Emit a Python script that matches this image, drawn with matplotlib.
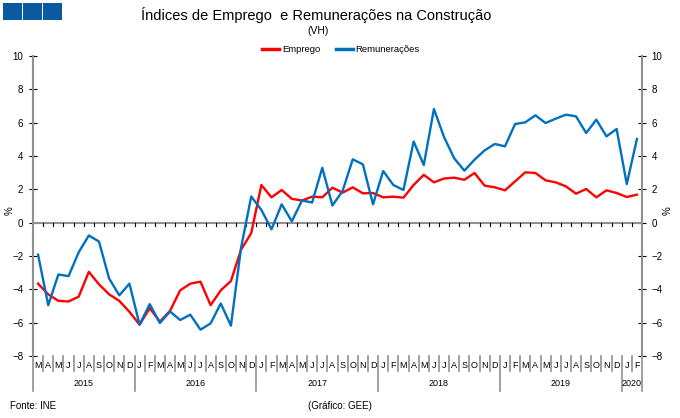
import matplotlib
matplotlib.use('Agg')
import matplotlib.pyplot as plt
from matplotlib.patches import Rectangle
from matplotlib.transforms import blended_transform_factory

plt.rcParams['font.family'] = ['Liberation Sans', 'DejaVu Sans']

# Months from March 2015 to February 2020
months = (['M', 'A', 'M', 'J', 'J', 'A', 'S', 'O', 'N', 'D']
          + ['J', 'F', 'M', 'A', 'M', 'J', 'J', 'A', 'S', 'O', 'N', 'D'] * 4
          + ['J', 'F'])
years = ['2015', '2016', '2017', '2018', '2019', '2020']
year_lengths = [10, 12, 12, 12, 12, 2]

emprego = [-3.66, -4.3, -4.69, -4.73, -4.44, -2.95, -3.7, -4.3, -4.69, -5.35,
           -6.12, -5.13, -5.94, -5.29, -4.06, -3.66, -3.54, -4.95, -4.06, -3.5,
           -1.62, -0.63, 2.26, 1.52, 1.96, 1.43, 1.33, 1.56, 1.52, 2.1,
           1.8, 2.12, 1.76, 1.78, 1.52, 1.56, 1.5, 2.26, 2.87, 2.42,
           2.65, 2.7, 2.57, 2.98, 2.22, 2.12, 1.94, 2.48, 3.02, 2.98,
           2.54, 2.42, 2.18, 1.74, 2.02, 1.52, 1.94, 1.78, 1.54, 1.68]

remuneracoes = [-1.92, -4.95, -3.11, -3.21, -1.78, -0.77, -1.13, -3.35, -4.36, -3.66,
                -6.12, -4.89, -6.02, -5.33, -5.84, -5.52, -6.42, -6.04, -4.85, -6.18,
                -1.5, 1.57, 0.76, -0.4, 1.1, 0.08, 1.33, 1.21, 3.29, 1.03,
                1.9, 3.8, 3.5, 1.1, 3.1, 2.26, 1.96, 4.87, 3.46, 6.82,
                5.13, 3.86, 3.12, 3.78, 4.34, 4.72, 4.58, 5.92, 6.02, 6.44,
                5.98, 6.24, 6.48, 6.38, 5.38, 6.18, 5.18, 5.62, 2.32, 5.02]

RED = '#FF0000'
BLUE = '#0070C0'
GREY = '#909090'

fig = plt.figure(figsize=(6.8, 4.18), dpi=100)
ax = fig.add_axes([33 / 680, 1 - 356 / 418, 609 / 680, 300 / 418])

x = list(range(len(months)))
ax.plot(x, emprego, color=RED, lw=1.7, label='Emprego', zorder=3)
ax.plot(x, remuneracoes, color=BLUE, lw=1.7, label='Remunerações', zorder=3)

ax.set_xlim(-0.5, len(months) - 0.5)
ax.set_ylim(-8, 10)
ax.set_yticks(range(-8, 11, 2))
ax.tick_params(axis='y', which='both', direction='inout', length=6, width=0.8,
               color='black', labelsize=7, left=True, right=True,
               labelleft=True, labelright=True, pad=4)

for side in ['top', 'bottom']:
    ax.spines[side].set_visible(False)
for side in ['left', 'right']:
    ax.spines[side].set_color(GREY)
    ax.spines[side].set_linewidth(1.5)

# zero line with month ticks
ax.axhline(0, color=GREY, lw=1.5, zorder=2)
ax.set_xticks([])
trans = blended_transform_factory(ax.transData, ax.transAxes)
for b in range(1, len(months)):
    ax.plot([b - 0.5, b - 0.5], [0, -0.22], color='black', lw=0.8, zorder=2)

# month labels and separators
year_bounds = [-0.5]
for n in year_lengths:
    year_bounds.append(year_bounds[-1] + n)
for i, m in enumerate(months):
    ax.text(i, -0.03, m, transform=trans, ha='center', va='center', fontsize=6.5)
for b in range(0, len(months) + 1):
    pos = b - 0.5
    if pos in year_bounds:
        y1 = -0.115
    else:
        y1 = -0.05
    ax.plot([pos, pos], [0, y1], transform=trans, color=GREY, lw=1.2,
            clip_on=False)
for k, yr in enumerate(years):
    mid = (year_bounds[k] + year_bounds[k + 1]) / 2
    ax.text(mid, -0.09, yr, transform=trans, ha='center', va='center', fontsize=6.5)

# axis labels
fig.text(10 / 680, 1 - 211 / 418, '%', rotation=90, ha='center', va='center', fontsize=7)
fig.text(668 / 680, 1 - 211 / 418, '%', rotation=90, ha='center', va='center', fontsize=7)

# titles
fig.text(316 / 680, 1 - 15 / 418, 'Índices de Emprego  e Remunerações na Construção',
         ha='center', va='center', fontsize=10.5)
fig.text(318 / 680, 1 - 31 / 418, '(VH)', ha='center', va='center', fontsize=7.5)

leg = fig.legend(loc='center', bbox_to_anchor=(341 / 680, 1 - 50 / 418), ncol=2,
                 frameon=False, fontsize=6.8, handlelength=1.8, handletextpad=0.3,
                 columnspacing=1.6)
for line in leg.get_lines():
    line.set_linewidth(2.5)

# footer
fig.text(10 / 680, 1 - 406 / 418, 'Fonte: INE', ha='left', va='center', fontsize=7)
fig.text(340 / 680, 1 - 406 / 418, '(Gráfico: GEE)', ha='center', va='center', fontsize=7)

# logo squares
for k in range(3):
    fig.patches.append(Rectangle(((3 + 20 * k) / 680, 1 - 20 / 418), 19 / 680, 17 / 418,
                                 transform=fig.transFigure, facecolor='#0A5AA0',
                                 edgecolor='none'))

fig.savefig('out.png', dpi=100)
